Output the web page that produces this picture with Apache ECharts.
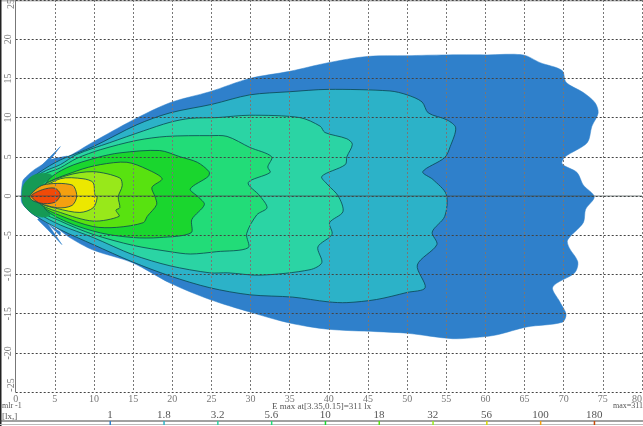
<!DOCTYPE html>
<html><head><meta charset="utf-8">
<style>html,body{margin:0;padding:0;background:#fff}#c{width:643px;height:426px}</style>
<script src="https://cdn.jsdelivr.net/npm/echarts@6/dist/echarts.min.js"></script>
</head><body><div id="c"></div>
<script>
const level1=[[0.7,0],[0.8,1.3],[1,2.1],[2.3,3.3],[3.4,4],[4.4,4.6],[6.2,4.8],[9.9,6.9],[15,9.7],[19.7,11.9],[24.8,13.3],[29.9,15],[35,15.9],[39.9,17],[44.9,17.8],[50,17.9],[55,18],[60.2,18],[64.8,18],[67,17],[69.8,16],[70.3,14.5],[72.5,13.2],[74,11.9],[74.4,10.6],[73.6,8.9],[73,6.8],[70.2,5],[69.8,4.1],[71.7,3],[72.5,1.4],[73.9,-0.1],[72.8,-1.7],[72.5,-3.4],[70.5,-5.6],[70.7,-6.6],[71.8,-8.4],[71.4,-9.8],[68.6,-11.6],[69.5,-13.5],[70.3,-15.1],[69.8,-16.1],[65.3,-16.7],[61.5,-17.7],[59.3,-18],[55.8,-18.2],[50,-17.5],[46.1,-17.3],[39.9,-17],[35,-16.2],[29.9,-14.8],[24.8,-13.2],[19.7,-11.1],[14.9,-8.5],[9.9,-6.9],[6.9,-5.3],[5,-3.9],[3,-2.8],[2,-2.2],[0.8,-0.9]];
const spikeTop=[[3.2,3.8],[5.7,6.3],[4.4,4.6],[5,4.8],[6.6,5.1],[6.2,4.5],[4.4,4]];
const spikeBottom=[[3,-2.8],[5.7,-4.6],[5.7,-5.1],[4,-3.4],[5.9,-6.2],[4.1,-4.3],[2.8,-3]];
const level2=[[1.2,1.4],[3,3],[5.7,4.6],[9.9,6.3],[15.5,9.1],[19.7,10.6],[25.1,11.7],[29.9,12.9],[35,13.3],[39.9,13.6],[47.8,13.4],[50,12.9],[51.9,12],[52.7,10.6],[55.1,9.7],[56.2,8.7],[55.5,6.3],[54.8,4.9],[52,3.1],[53.3,2.1],[55,0.2],[54.8,-2.6],[53.2,-4.6],[53.8,-6.2],[51.3,-8.8],[52.3,-11.7],[50,-12.3],[46.1,-13.2],[42.3,-13.6],[39.9,-13.5],[35.4,-12.9],[29.9,-12.6],[24.8,-11.7],[19.7,-10.2],[14.9,-8.4],[9.9,-6.2],[5.7,-4.3],[2.5,-2.5],[1,-1]];
const level3=[[1.8,1.6],[3.4,3],[5.7,4],[7.8,5.3],[12,6.8],[16.3,8.3],[19.7,9.4],[22.3,9.9],[25.7,10],[29.9,10.3],[36.3,10],[38.9,8.9],[39.5,8.1],[42.3,7.3],[43,6.6],[42.3,5],[42.1,4],[39.1,2.5],[39.9,1.4],[41.2,0],[41.8,-2],[40.1,-3.4],[40.4,-4.9],[38.6,-6.5],[39.1,-8.5],[37.6,-9.4],[31.2,-10.1],[27.1,-9.8],[24.8,-9.8],[19.7,-8.9],[15,-7.5],[9.9,-5.3],[5.7,-3.7],[3,-2.3],[1.6,-1.2]];
const level4=[[3.1,2.3],[5.7,3.6],[7.8,4.8],[10.8,5.9],[15.5,7.1],[19.3,7.6],[24.8,7.7],[27,7.6],[29.9,6.2],[32.7,5],[32.2,3.7],[32.5,3],[29.7,1.7],[31.2,0],[32.1,-1.5],[30.8,-2.4],[29.5,-4.8],[29.7,-6.6],[25.7,-7.1],[22.3,-7.4],[19.7,-7.1],[15,-6.3],[9.9,-4.9],[5.7,-3.2],[3.1,-1.7]];
const tipBand=[[0.8,0],[1,1.4],[2.2,2.6],[3.6,2.9],[4.6,2.6],[3.4,1.4],[2.4,0.4],[2.4,-0.4],[3.4,-1.3],[4.4,-2.4],[3.4,-2.7],[2.2,-2.3],[1,-1.1]];
const level5=[[4,1.8],[6.5,3.6],[10.4,4.9],[13.3,5.5],[18.4,5.8],[21,5],[23.2,4.3],[24.7,3.1],[24.6,2.5],[22.3,0.9],[23.3,-0.1],[24.1,-1.1],[22.5,-3],[22.4,-4.7],[18.4,-5.3],[15,-5.3],[10.8,-4.7],[6.5,-3.3],[3.6,-1.4]];
const level6=[[3.4,1.2],[7.8,3.2],[10.8,4],[14.2,4.3],[16.8,3.4],[18.7,2.2],[17.4,1.1],[17.8,-0.1],[18,-1.1],[16.8,-2.6],[16.3,-3.4],[12.9,-4],[9.9,-3.9],[5.7,-2.5],[3.4,-1.2]];
const level7=[[3,1],[6.5,2.6],[9.9,3.1],[13.3,2.3],[13.6,1.3],[13.1,-0.1],[13.3,-1.5],[12.8,-1.8],[13.2,-2.6],[9.9,-3.2],[5.7,-2.1],[3,-0.9]];
const level8=[[2.6,0.3],[5.7,2.2],[8.6,2.2],[9.9,1.7],[10.1,0.2],[10.4,-0.2],[9.9,-1.5],[8.2,-2.1],[5.3,-1.6],[3.1,-0.9]];
const level9=[[1.8,0],[3.5,1.4],[7.2,1.4],[7.8,0],[7.2,-1.2],[5.3,-1.5],[2.2,-0.6]];
const level10=[[2,0],[3.4,0.8],[5,1],[5.7,0.2],[5,-0.8],[3.1,-0.9]];
const contours=[level1,spikeTop,spikeBottom,level2,level3,level4,tipBand,level5,level6,level7,level8,level9,level10];
const fillColors=['#2f80cb','#2f80cb','#2f80cb','#2cb2c8','#2bd4a4','#22dc78','#159a55','#1ad62e','#58e210','#98e81a','#ece800','#f4a010','#f04a08'];
const scaleLabels=['1','1.8','3.2','5.6','10','18','32','56','100','180'];
const scaleColors=['#2f80cb','#2cb2c8','#2bd4a4','#22dc78','#1ad62e','#58e210','#98e81a','#d8d800','#f4a010','#c84a08'];
const xTicks=[0,80,5];
const yTicks=[-25,25,5];
const centerLine=[[0,0],[80,0]];
const font='"Liberation Serif",serif';
const chart=echarts.init(document.getElementById('c'),null,{renderer:'canvas'});
const graphic=[
 {type:'rect',shape:{x:0,y:0,width:643,height:1.5},style:{fill:'#bbb'},silent:true},
 {type:'rect',shape:{x:0,y:0,width:1.5,height:426},style:{fill:'#222'},silent:true},
 {type:'text',x:11,y:4,rotation:Math.PI/2,style:{text:'25',font:'10px '+font,fill:'#777',align:'center',verticalAlign:'middle'}},
 {type:'text',x:11,y:385,rotation:Math.PI/2,style:{text:'-25',font:'10px '+font,fill:'#777',align:'center',verticalAlign:'middle'}},
 {type:'text',x:2,y:402,style:{text:'mlr -1',font:'8px '+font,fill:'#555'}},
 {type:'text',x:2,y:412,style:{text:'[lx,]',font:'9px '+font,fill:'#555'}},
 {type:'text',x:272,y:402,style:{text:'E max at[3.35,0.15]=311 lx',font:'9px '+font,fill:'#555'}},
 {type:'text',x:613,y:402,style:{text:'max=311',font:'8px '+font,fill:'#555'}},
 {type:'rect',shape:{x:0,y:420.5,width:643,height:1},style:{fill:'#444'}},
 {type:'rect',shape:{x:0,y:424,width:643,height:1},style:{fill:'#bbb'}}
];
scaleLabels.forEach((t,i)=>{
 const cx=110+i*53.8;
 graphic.push({type:'text',x:cx,y:410,style:{text:t,font:'11px '+font,fill:'#555',align:'center'}});
 graphic.push({type:'rect',shape:{x:cx-0.5,y:421,width:1.5,height:4},style:{fill:scaleColors[i]}});
});
chart.setOption({
 animation:false,
 backgroundColor:'#fff',
 grid:{left:15.7,right:1,top:0,bottom:34,outerBoundsMode:'none'},
 xAxis:{type:'value',min:xTicks[0],max:xTicks[1],interval:xTicks[2],z:5,
  axisLine:{show:false},axisTick:{show:false},
  axisLabel:{color:'#777',fontSize:10,fontFamily:font,margin:2,alignMaxLabel:'right',hideOverlap:false},
  splitLine:{show:true,lineStyle:{color:'#777',width:1,type:[2,2]}}},
 yAxis:{type:'value',min:yTicks[0],max:yTicks[1],interval:yTicks[2],z:5,
  axisLine:{show:true,onZero:false,lineStyle:{color:'#777',width:1}},axisTick:{show:false},
  axisLabel:{color:'#777',fontSize:10,fontFamily:font,margin:2,rotate:90,showMinLabel:false,showMaxLabel:false},
  splitLine:{show:true,lineStyle:{color:'#444',width:1,type:[2,2]}}},
 graphic:graphic,
 series:[
  {type:'custom',coordinateSystem:'cartesian2d',z:2,silent:true,
   data:contours.map((c,i)=>[i]),
   encode:{x:[],y:[]},
   renderItem:(params,api)=>{
    const i=api.value(0);
    const outer=i<3;
    const band=contours[i]===tipBand;
    return {type:'polygon',
     shape:{points:contours[i].map(p=>api.coord(p)),smooth:(i===1||i===2)?0:0.3},
     style:{fill:fillColors[i],stroke:outer||band?fillColors[i]:'rgba(10,70,80,0.8)',lineWidth:outer||band?0.5:1}};
   }},
  {type:'line',data:centerLine,z:6,symbol:'none',silent:true,lineStyle:{color:'rgba(60,70,70,0.45)',width:1.5}}
 ]
});
</script></body></html>
